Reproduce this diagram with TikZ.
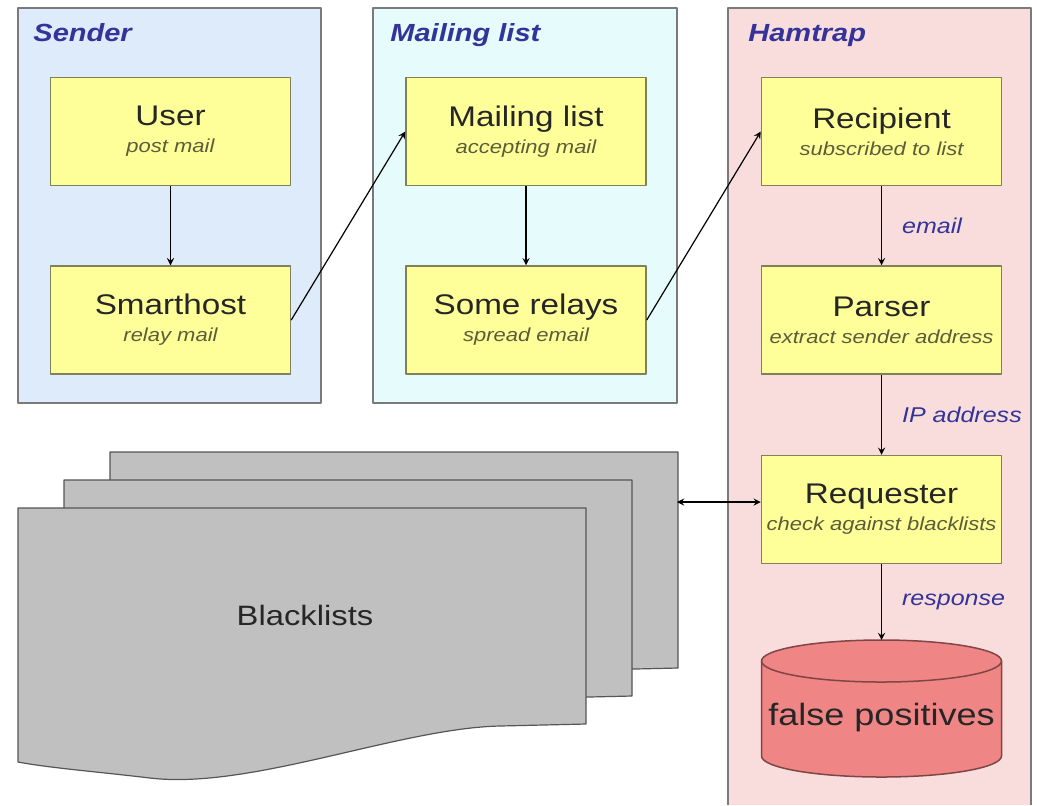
\documentclass[tikz,border=0pt]{standalone}
\usepackage{fontspec}
\setmainfont{Liberation Sans}[FakeStretch=1.17]
\usetikzlibrary{positioning}
\definecolor{senderbg}{HTML}{DDEBFA}
\definecolor{listbg}{HTML}{E6FBFB}
\definecolor{trapbg}{HTML}{F9DDDD}
\definecolor{panelline}{HTML}{7A7A7A}
\definecolor{boxfill}{HTML}{FFFF99}
\definecolor{boxline}{HTML}{80805A}
\definecolor{titleblue}{HTML}{333399}
\definecolor{subtext}{HTML}{5C5C3A}
\definecolor{sheetfill}{HTML}{C0C0C0}
\definecolor{sheetline}{HTML}{555555}
\definecolor{dbfill}{HTML}{F08585}
\definecolor{dbline}{HTML}{804545}
\tikzset{
  panel/.style={draw=panelline, line width=0.75pt},
  stage/.style={draw=boxline, fill=boxfill, line width=0.75pt, minimum width=120pt,
    minimum height=54pt, inner sep=0pt, align=center, font=\fontsize{9.4}{13.5}\selectfont},
  panetitle/.style={anchor=base west, inner sep=0pt, text=titleblue,
    font=\fontsize{12.4}{14}\selectfont\bfseries\itshape},
  flowlabel/.style={right=10pt, inner sep=0pt, text=titleblue, font=\fontsize{10.7}{12}\selectfont\itshape},
  sheet/.style={draw=sheetline, fill=sheetfill, line width=0.6pt},
  flow/.style={->, line width=0.6pt}
}
\newcommand{\stagetext}[2]{{\fontsize{14.2}{13.5}\selectfont\color{black!85}#1}\\{\color{subtext}\itshape #2}}
\begin{document}
\begin{tikzpicture}[x=0.5pt, y=-0.5pt, >=stealth, line join=round]
  \useasboundingbox (0,0) rectangle (1037,805);
  \fill[white] (0,0) rectangle (1037,805);
  \draw[panel, fill=senderbg] (18,8) rectangle (321,403);
  \draw[panel, fill=listbg] (373,8) rectangle (677,403);
  \fill[trapbg] (728,8) rectangle (1031,805);
  \draw[panel] (728,805) -- (728,8) -- (1031,8) -- (1031,805);
  \node[panetitle] (sendertitle) at (33,41) {Sender};
  \node[panetitle] (listtitle) at (390,41) {Mailing list};
  \node[panetitle] (traptitle) at (748,41) {Hamtrap};

  \node[stage] (user) at (170.5,131.5) {\stagetext{User}{post mail}};
  \node[stage, below=39.5pt of user] (smarthost) {\stagetext{Smarthost}{relay mail}};
  \node[stage, right=57pt of user] (mlist) {\stagetext{Mailing list}{accepting mail}};
  \node[stage, below=39.5pt of mlist] (relays) {\stagetext{Some relays}{spread email}};
  \node[stage, right=57pt of mlist] (recipient) {\stagetext{Recipient}{subscribed to list}};
  \node[stage, below=39.5pt of recipient] (parser) {\stagetext{Parser}{extract sender address}};
  \node[stage, below=40pt of parser] (requester) {\stagetext{Requester}{check against blacklists}};

  \foreach \k in {2,1,0}
    \draw[sheet, shift={(46*\k,-28*\k)}] (18,508) -- (586,508) -- (586,724) -- (500,726)
      .. controls (400,728) and (250,790) .. (150,778) .. controls (100,772) and (50,768) .. (18,762) -- cycle;
  \node[font=\fontsize{14}{16}\selectfont, text=black!85] (blacklists) at (305,615) {Blacklists};
  \coordinate (blright) at (677,502);

  \coordinate (dbtop) at (requester.south |- 0,640);
  \filldraw[draw=dbline, fill=dbfill, line width=0.75pt] ([xshift=-60pt]dbtop) ++(0,21) -- ++(0,95)
    arc[start angle=180, end angle=360, x radius=60pt, y radius=10.5pt] -- ++(0,-95)
    arc[start angle=0, end angle=180, x radius=60pt, y radius=10.5pt] -- cycle;
  \draw[dbline, line width=0.75pt] ([xshift=-60pt]dbtop) ++(0,21)
    arc[start angle=180, end angle=360, x radius=60pt, y radius=10.5pt];
  \node[font=\fontsize{15.4}{18}\selectfont, text=black!85] (falsepos) at ([yshift=-39pt]dbtop) {false positives};

  \draw[flow] (user) -- (smarthost);
  \draw[flow] (smarthost.east) -- (mlist.west);
  \draw[flow] (mlist) -- (relays);
  \draw[flow] (relays.east) -- (recipient.west);
  \draw[flow] (recipient) -- node[flowlabel] {email} (parser);
  \draw[flow] (parser) -- node[flowlabel] {IP address} (requester);
  \draw[flow] (requester) -- node[flowlabel] {response} (dbtop);
  \draw[<->, line width=0.6pt] (blright) -- (blright -| requester.west);
\end{tikzpicture}
\end{document}
